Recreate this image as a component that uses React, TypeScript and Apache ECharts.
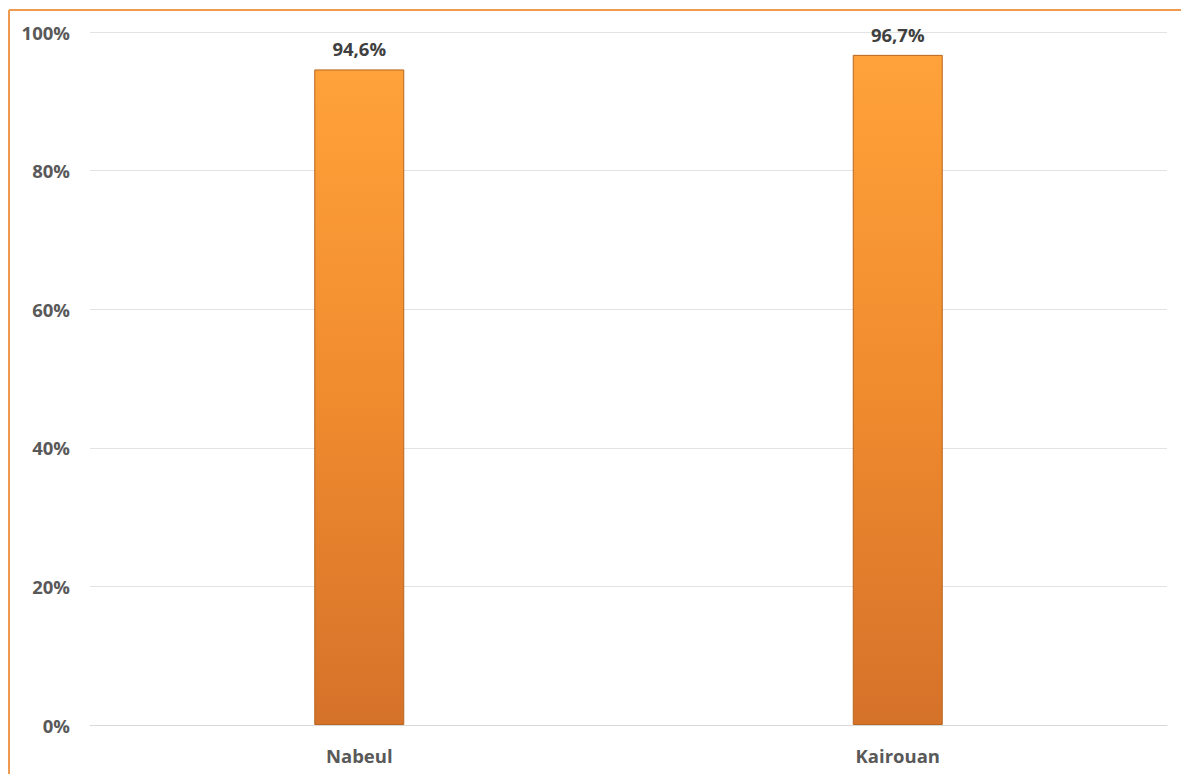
import React, { useEffect, useRef } from "react";
import * as echarts from "echarts";

const categories = ["Nabeul", "Kairouan"];
const values = [94.6, 96.7];
const yTicks = [0, 20, 40, 60, 80, 100];

export default function App() {
  const ref = useRef<HTMLDivElement>(null);
  useEffect(() => {
    document.body.style.margin = "0";
    const chart = echarts.init(ref.current!, null, { renderer: "svg" });
    chart.setOption({
      animation: false,
      backgroundColor: "#ffffff",
      textStyle: { fontFamily: "Open Sans" },
      graphic: [
        {
          type: "line",
          shape: { x1: 9, y1: 10, x2: 1181, y2: 10 },
          style: { stroke: "#EE9A50", lineWidth: 2 },
        },
        {
          type: "line",
          shape: { x1: 9, y1: 10, x2: 9, y2: 774 },
          style: { stroke: "#EE9A50", lineWidth: 2 },
        },
      ],
      grid: { left: 90, right: 14, top: 32, bottom: 49, containLabel: false },
      xAxis: {
        type: "category",
        data: categories,
        axisLine: { show: true, lineStyle: { color: "#D9D9D9", width: 1 } },
        axisTick: { show: false },
        axisLabel: {
          color: "#595959",
          fontWeight: "bold",
          fontSize: 18.5,
          margin: 21,
          fontFamily: "Open Sans",
        },
      },
      yAxis: {
        type: "value",
        min: 0,
        max: 100,
        interval: 20,
        axisLine: { show: false },
        axisTick: { show: false },
        splitLine: { lineStyle: { color: "#E3E3E3", width: 1 } },
        axisLabel: {
          color: "#595959",
          fontWeight: "bold",
          fontSize: 18.5,
          margin: 20,
          fontFamily: "Open Sans",
          formatter: (v: number) => (yTicks.includes(v) ? v + "%" : ""),
        },
      },
      series: [
        {
          type: "bar",
          data: values,
          barWidth: 90,
          itemStyle: {
            color: new echarts.graphic.LinearGradient(0, 0, 0, 1, [
              { offset: 0, color: "#FFA23A" },
              { offset: 0.5, color: "#F08B2E" },
              { offset: 1, color: "#D5722A" },
            ]),
            borderColor: "#B8651F",
            borderWidth: 1,
          },
          label: {
            show: true,
            position: "top",
            distance: 11,
            color: "#404040",
            fontWeight: "bold",
            fontSize: 18.5,
            fontFamily: "Open Sans",
            formatter: (p: any) => p.value.toFixed(1).replace(".", ",") + "%",
          },
        },
      ],
    });
    return () => chart.dispose();
  }, []);
  return <div ref={ref} style={{ width: 1181, height: 774 }} />;
}
